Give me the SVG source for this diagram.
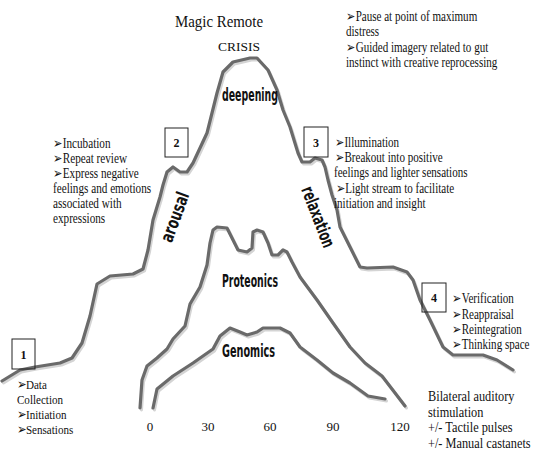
<svg xmlns="http://www.w3.org/2000/svg" width="550" height="452" viewBox="0 0 550 452">
<style>
.curve{fill:none;stroke:#6a6a6a;stroke-width:3.2;stroke-linejoin:round;stroke-linecap:round}
.shadow{fill:none;stroke:#d4d4d4;stroke-width:3;stroke-linejoin:round;stroke-linecap:round}
.t{font-family:"Liberation Serif","DejaVu Serif",serif;font-size:14px;fill:#111}
.lbl{font-family:"DejaVu Sans Condensed","DejaVu Sans",sans-serif;font-weight:bold;font-size:18px;fill:#111}
.box{fill:none;stroke:#222;stroke-width:1}
.num{font-family:"Liberation Serif","DejaVu Serif",serif;font-weight:bold;font-size:12px;fill:#111;text-anchor:middle}
.ax{font-family:"Liberation Serif","DejaVu Serif",serif;font-size:13px;fill:#111;text-anchor:middle}
</style>
<rect width="550" height="452" fill="#fff"/>
<g id="connectors">
<g transform="translate(1.5,2)">
<polyline class="shadow" points="2,381 20,370 35,367 60,363 72,358 82,343 90,316 97,284 110,276 133,274 143,269 148,250 153,220 160,197 163,185 167,172 173,167 180,172 187,172 193,163 207,133 217,93 223,72 233,62 250,58 257,58 268,70 277,90 283,110 290,127 298,153 302,162 310,162 315,158 322,160 325,167 328,180 332,195 337,210 340,227 350,247 360,267 367,268 393,267 407,272 413,280 420,300 430,320 443,347 453,355 483,355 497,360 513,370"/>
<polyline class="shadow" points="140,408 142,380 147,366 157,358 167,349 173,339 185,326 190,304 200,287 207,265 210,243 213,230 217,227 227,228 233,240 238,250 247,252 252,248 253,232 257,230 263,232 268,243 272,255 278,255 283,250 287,252 292,262 300,277 317,300 333,323 350,347 365,363 382,376 392,389 405,406"/>
<polyline class="shadow" points="153,408 157,389 173,376 193,363 213,349 220,336 230,328 240,332 247,335 257,332 263,328 280,328 290,333 300,347 317,360 333,373 350,383 368,396 385,399"/>
</g>
<polyline id="outer-curve" class="curve" points="2,381 20,370 35,367 60,363 72,358 82,343 90,316 97,284 110,276 133,274 143,269 148,250 153,220 160,197 163,185 167,172 173,167 180,172 187,172 193,163 207,133 217,93 223,72 233,62 250,58 257,58 268,70 277,90 283,110 290,127 298,153 302,162 310,162 315,158 322,160 325,167 328,180 332,195 337,210 340,227 350,247 360,267 367,268 393,267 407,272 413,280 420,300 430,320 443,347 453,355 483,355 497,360 513,370"/>
<polyline id="proteonics-curve" class="curve" points="140,408 142,380 147,366 157,358 167,349 173,339 185,326 190,304 200,287 207,265 210,243 213,230 217,227 227,228 233,240 238,250 247,252 252,248 253,232 257,230 263,232 268,243 272,255 278,255 283,250 287,252 292,262 300,277 317,300 333,323 350,347 365,363 382,376 392,389 405,406"/>
<polyline id="genomics-curve" class="curve" points="153,408 157,389 173,376 193,363 213,349 220,336 230,328 240,332 247,335 257,332 263,328 280,328 290,333 300,347 317,360 333,373 350,383 368,396 385,399"/>
</g>
<g id="title">
<text class="t" x="175" y="27" textLength="88" lengthAdjust="spacingAndGlyphs" style="font-size:17px">Magic Remote</text>
<text class="t" x="218" y="51" textLength="42" lengthAdjust="spacingAndGlyphs" style="font-size:13px">CRISIS</text>
</g>
<g id="phase-labels">
<text class="lbl" x="222" y="101" textLength="56" lengthAdjust="spacingAndGlyphs">deepening</text>
<text class="lbl" x="222" y="287" textLength="56" lengthAdjust="spacingAndGlyphs">Proteonics</text>
<text class="lbl" x="222" y="357" textLength="53" lengthAdjust="spacingAndGlyphs">Genomics</text>
<text class="lbl" transform="translate(175,217) rotate(-70)" x="-26" y="6" textLength="52" lengthAdjust="spacingAndGlyphs">arousal</text>
<text class="lbl" transform="translate(318,217) rotate(69)" x="-32" y="6" textLength="64" lengthAdjust="spacingAndGlyphs">relaxation</text>
</g>
<g id="node1">
<rect class="box" x="12" y="339" width="23" height="30"/>
<text class="num" x="23.5" y="359">1</text>
<g transform="translate(17,0) scale(0.82,1)">
<text class="t" x="0" y="389" style="font-size:13.5px">➢Data</text>
<text class="t" x="0" y="404" style="font-size:13.5px">Collection</text>
<text class="t" x="0" y="419" style="font-size:13.5px">➢Initiation</text>
<text class="t" x="0" y="434" style="font-size:13.5px">➢Sensations</text>
</g>
</g>
<g id="node2">
<rect class="box" x="165" y="128" width="23" height="29"/>
<text class="num" x="176.5" y="147">2</text>
<g transform="translate(53,0) scale(0.8,1)">
<text class="t" x="0" y="148">➢Incubation</text>
<text class="t" x="0" y="163">➢Repeat review</text>
<text class="t" x="0" y="178">➢Express negative</text>
<text class="t" x="0" y="193">feelings and emotions</text>
<text class="t" x="0" y="208">associated with</text>
<text class="t" x="0" y="223">expressions</text>
</g>
</g>
<g id="crisis-notes">
<g transform="translate(346,0) scale(0.79,1)">
<text class="t" x="0" y="21">➢Pause at point of maximum</text>
<text class="t" x="0" y="36">distress</text>
<text class="t" x="0" y="52">➢Guided imagery related to gut</text>
<text class="t" x="0" y="67">instinct with creative reprocessing</text>
</g>
</g>
<g id="node3">
<rect class="box" x="304" y="127" width="24" height="30"/>
<text class="num" x="316" y="147">3</text>
<g transform="translate(334,0) scale(0.79,1)">
<text class="t" x="1" y="147">➢Illumination</text>
<text class="t" x="1" y="162">➢Breakout into positive</text>
<text class="t" x="0" y="177">feelings and lighter sensations</text>
<text class="t" x="2" y="193">➢Light stream to facilitate</text>
<text class="t" x="0" y="208">initiation and insight</text>
</g>
</g>
<g id="node4">
<rect class="box" x="422" y="283" width="24" height="29"/>
<text class="num" x="434" y="302">4</text>
<g transform="translate(452,0) scale(0.79,1)">
<text class="t" x="0" y="303">➢Verification</text>
<text class="t" x="0" y="319">➢Reappraisal</text>
<text class="t" x="0" y="334">➢Reintegration</text>
<text class="t" x="0" y="349">➢Thinking space</text>
</g>
</g>
<g id="stimulation-note">
<g transform="translate(428,0) scale(0.88,1)">
<text class="t" x="0" y="401">Bilateral auditory</text>
<text class="t" x="0" y="417">stimulation</text>
<text class="t" x="0" y="432">+/- Tactile pulses</text>
<text class="t" x="0" y="448">+/- Manual castanets</text>
</g>
</g>
<g id="axis">
<text class="ax" x="150" y="431">0</text>
<text class="ax" x="208" y="431">30</text>
<text class="ax" x="270" y="431">60</text>
<text class="ax" x="333" y="431">90</text>
<text class="ax" x="400" y="431">120</text>
</g>
</svg>
